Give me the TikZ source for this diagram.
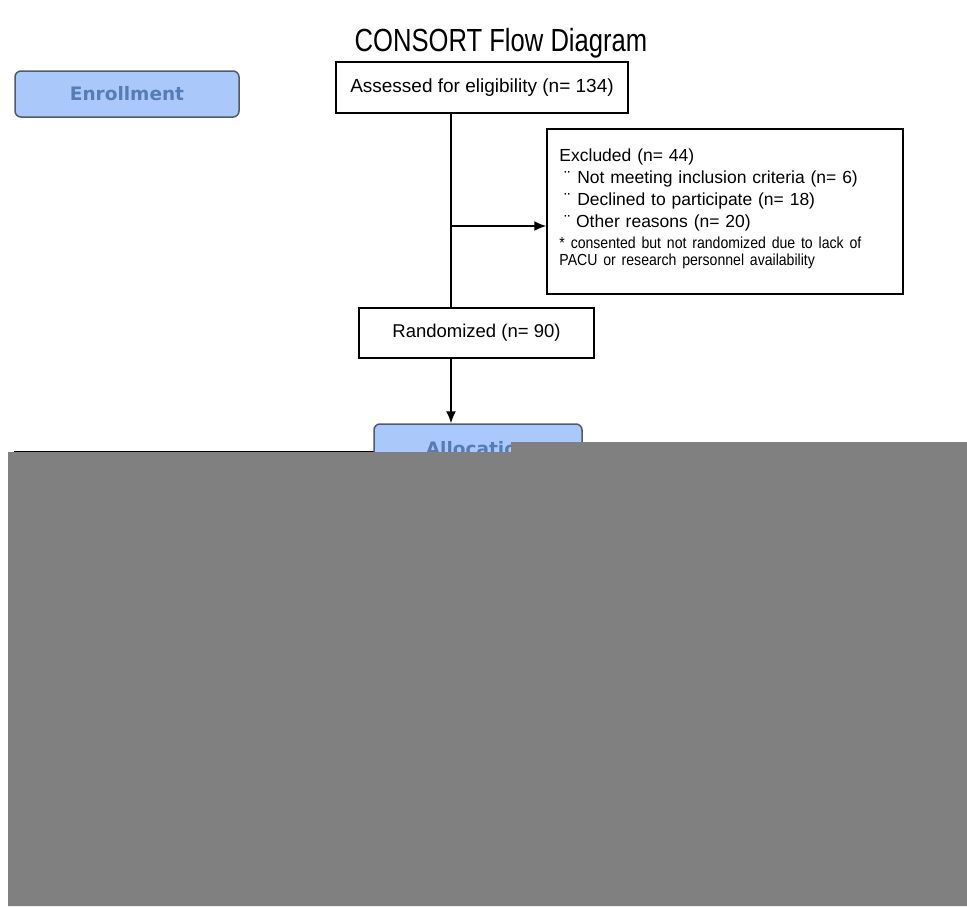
\documentclass[tikz,border=0pt]{standalone}
\usepackage{fontspec}
\setmainfont{Liberation Sans}
\newfontfamily\titlefont[FakeStretch=0.8]{Liberation Sans}
\newfontfamily\notefont[FakeStretch=0.88,WordSpace=0.8]{Liberation Sans}
\newfontfamily\stagefont{DejaVu Sans}
\usetikzlibrary{calc,positioning,arrows.meta}
\definecolor{stagefill}{RGB}{170,200,250}
\definecolor{stageedge}{RGB}{80,90,105}
\definecolor{stagetext}{RGB}{85,125,180}
\definecolor{maskgrey}{RGB}{128,128,128}

\begin{document}
\begin{tikzpicture}[x=1pt,y=-1pt,
  flowbox/.style={draw,rectangle,line width=1.5pt,inner sep=0pt,font=\fontsize{18.5}{22}\selectfont},
  stage/.style={draw=stageedge,fill=stagefill,rounded corners=6pt,line width=1.5pt,inner sep=0pt,
    text=stagetext,font=\stagefont\bfseries\fontsize{18.5}{22}\selectfont},
  flowline/.style={line width=1.5pt},
  flowarrow/.style={flowline,-{Latex[length=12pt,width=10pt]}}]

  \useasboundingbox (0,0) rectangle (967,906);

  \node [anchor=base] at(501,51) (title) {\titlefont\fontsize{32}{36}\selectfont CONSORT Flow Diagram};

  \node [stage,minimum width=224,minimum height=46] at(127,94) (enroll) {Enrollment};
  \node [flowbox,minimum width=292,minimum height=51,font=\fontsize{19}{22}\selectfont] at(482,87.5) (assess) {Assessed for eligibility (n= 134)};

  \node [flowbox,minimum width=356,minimum height=165] at(725,211.5) (excl) {};
  \node [anchor=north west,inner sep=0pt,text width=330,align=left,font=\fontsize{17.5}{22}\selectfont]
    at($(excl.north west)+(13,20)$) (excl_text) {Excluded (n= 44)\\
    \hspace*{5pt}¨\hspace*{7pt}Not meeting inclusion criteria (n= 6)\\
    \hspace*{5pt}¨\hspace*{7pt}Declined to participate (n= 18)\\
    \hspace*{5pt}¨ Other reasons (n= 20)\\[-1pt]
    {\notefont\fontsize{16}{17}\selectfont * consented but not randomized due to lack of}\\[-5pt]
    {\notefont\fontsize{16}{17}\selectfont PACU or research personnel availability}};

  \node [flowbox,minimum width=235,minimum height=50] at(476.5,333) (rand) {Randomized (n= 90)};

  % arm boxes, only the top edge of the left one shows
  \node [flowbox,anchor=north west,minimum width=400,minimum height=300] at(14,451) (arm_left) {};
  \node [stage,minimum width=208,minimum height=50] at(478,449) (alloc) {Allocation};

  \coordinate (trunk) at (451,0);
  \coordinate (excl_branch) at (451,226);

  \draw [flowline] (assess.south -| trunk) -- (rand.north -| trunk);
  \draw [flowarrow] (excl_branch) -- (excl_branch -| excl.west);
  \draw [flowarrow] (rand.south -| trunk) -- (alloc.north -| trunk);

  \fill [maskgrey] (8,906) |- (511,452) |- (967,442) -- (967,906) -- cycle;
\end{tikzpicture}
\end{document}
